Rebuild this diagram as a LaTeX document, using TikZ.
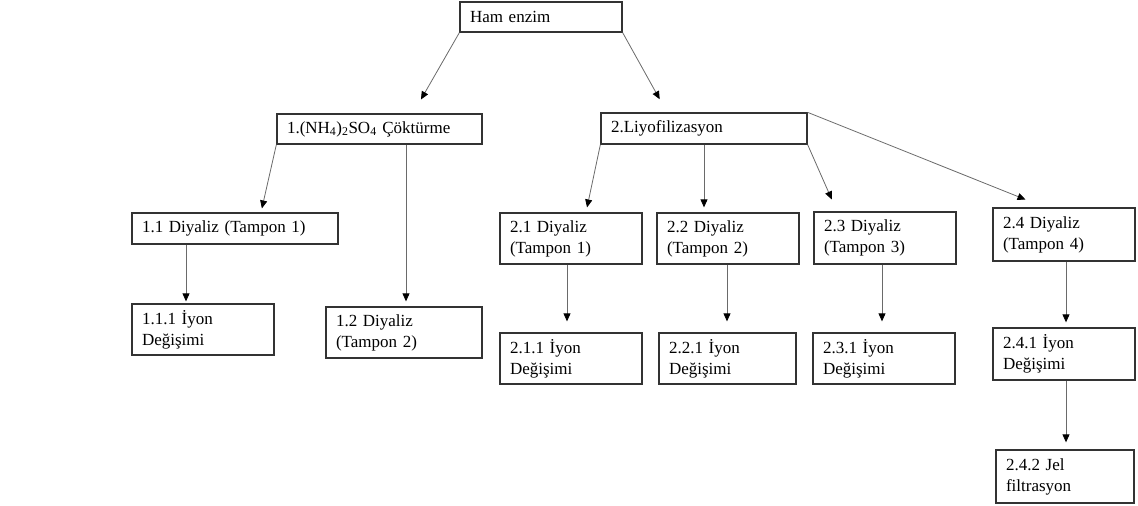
\documentclass[tikz,border=0pt]{standalone}
\usepackage{fontspec}
\setmainfont{Liberation Serif}
\usetikzlibrary{arrows.meta,positioning,calc}
\definecolor{boxline}{HTML}{333333}
\definecolor{linkgray}{HTML}{6A6A6A}

\begin{document}
\begin{tikzpicture}[
  x=1pt,y=-1pt,
  font=\fontsize{17}{21}\selectfont,
  stage/.style={draw=boxline,line width=1.3pt,inner xsep=10pt,inner ysep=0pt,align=left},
  sz/.style 2 args={text width=#1,minimum height=#2},
  link/.style={draw=linkgray,line width=0.8pt,-{Triangle[length=8pt,width=7pt,color=black]}},
]
\useasboundingbox (0,0) rectangle (1138,506);

% ---------- top: raw enzyme ----------
\node[stage,sz={142pt}{30pt}] (ham) at (541,17) {Ham enzim};

% ---------- level 1: the two routes ----------
\node[stage,sz={185pt}{30pt}] (cok) at (379.5,129) {1.(NH\textsubscript{4})\textsubscript{2}SO\textsubscript{4} Çöktürme};
\node[stage,sz={186pt}{31pt}] (liyo) at (704,128.5) {2.Liyofilizasyon};

% ---------- level 2: dialysis ----------
\node[stage,sz={186pt}{31pt}] (d11) at (235,228.5) {1.1 Diyaliz (Tampon 1)};
\node[stage,sz={136pt}{51pt}] (d12) at (404,332.5) {1.2 Diyaliz\\(Tampon 2)};
\node[stage,sz={122pt}{51pt}] (d21) at (571,238.5) {2.1 Diyaliz\\(Tampon 1)};
\node[stage,sz={122pt}{51pt}] (d22) at (728,238.5) {2.2 Diyaliz\\(Tampon 2)};
\node[stage,sz={122pt}{52pt}] (d23) at (885,238) {2.3 Diyaliz\\(Tampon 3)};
\node[stage,sz={122pt}{53pt}] (d24) at (1064,234.5) {2.4 Diyaliz\\(Tampon 4)};

% ---------- level 3: ion exchange ----------
\node[stage,sz={122pt}{51pt}] (i111) at (203,329.5) {1.1.1 İyon\\Değişimi};
\node[stage,sz={122pt}{51pt}] (i211) at (571,358.5) {2.1.1 İyon\\Değişimi};
\node[stage,sz={117pt}{51pt}] (i221) at (727.5,358.5) {2.2.1 İyon\\Değişimi};
\node[stage,sz={122pt}{51pt}] (i231) at (884,358.5) {2.3.1 İyon\\Değişimi};
\node[stage,sz={122pt}{52pt}] (i241) at (1064,354) {2.4.1 İyon\\Değişimi};

% ---------- level 4: gel filtration ----------
\node[stage,sz={118pt}{53pt}] (j242) at (1065,476.5) {2.4.2 Jel\\filtrasyon};

% ---------- arrows ----------
\draw[link,shorten >=16pt] (ham.south west) -- ([xshift=33.5pt]cok.north);
\draw[link,shorten >=15pt] (ham.south east) -- ([xshift=-37pt]liyo.north);

\draw[link,shorten >=4pt] (cok.south west) -- ([xshift=26pt]d11.north);
\draw[link,shorten >=5pt] ([xshift=26.5pt]cok.south) -- ([xshift=26.5pt]cok.south |- d12.north);
\draw[link,shorten >=2pt] ([xshift=-49pt]d11.south) -- ([xshift=-49pt]d11.south |- i111.north);

\draw[link,shorten >=5pt] (liyo.south west) -- ([xshift=15pt]d21.north);
\draw[link,shorten >=5pt] (liyo.south) -- (liyo.south |- d22.north);
\draw[link,shorten >=13pt] (liyo.south east) -- ([xshift=-48pt]d23.north);
\draw[link,shorten >=21pt] (liyo.north east) -- ([xshift=-19pt]d24.north);

\foreach \a/\b/\s in {d21/i211/-4,d22/i221/-1,d23/i231/-3}
  \draw[link,shorten >=11pt] ([xshift=\s pt]\a.south) -- ([xshift=\s pt]\a.south |- \b.north);
\draw[link,shorten >=5pt] ([xshift=2pt]d24.south) -- ([xshift=2pt]d24.south |- i241.north);
\draw[link,shorten >=7pt] ([xshift=2pt]i241.south) -- ([xshift=2pt]i241.south |- j242.north);

\end{tikzpicture}
\end{document}
